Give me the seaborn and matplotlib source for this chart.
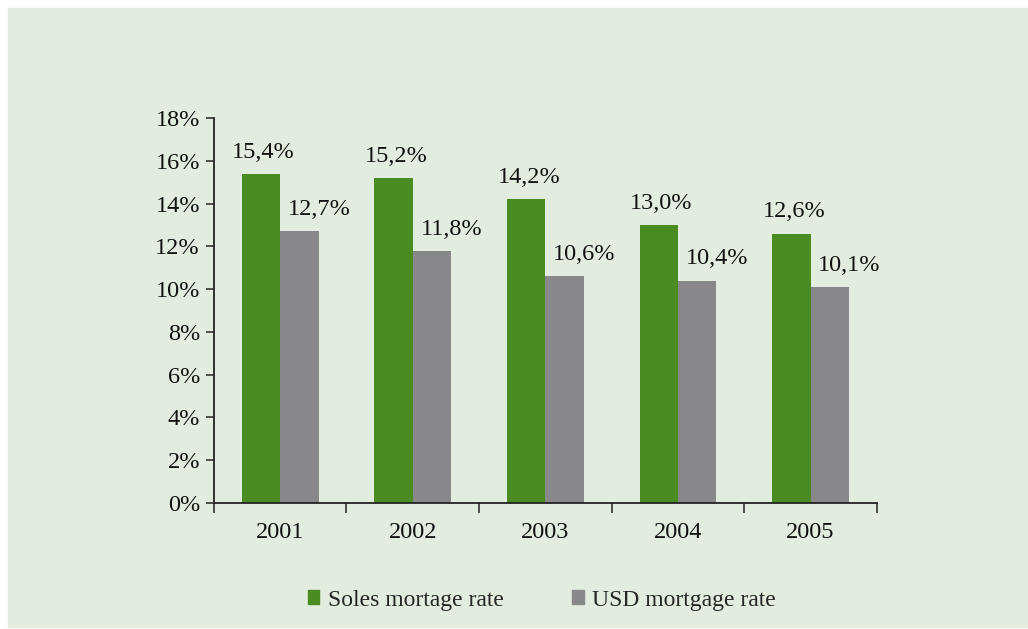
import matplotlib
matplotlib.use('Agg')
import matplotlib.pyplot as plt
import matplotlib.patches as mpatches
import seaborn as sns
import pandas as pd

# 数据
years = ['2001', '2002', '2003', '2004', '2005']
soles_rate = [15.4, 15.2, 14.2, 13.0, 12.6]
usd_rate = [12.7, 11.8, 10.6, 10.4, 10.1]
series_names = ['Soles mortage rate', 'USD mortgage rate']
colors = ['#4a8c22', '#88888a']
bg_color = '#e2ecdf'

df = pd.DataFrame({
    'year': years * 2,
    'rate': soles_rate + usd_rate,
    'serie': [series_names[0]] * len(years) + [series_names[1]] * len(years),
})

sns.set_style('ticks')
plt.rcParams['font.family'] = ['Liberation Serif', 'DejaVu Serif']
fs = 17.5

fig = plt.figure(figsize=(10.28, 6.29), dpi=100)
fig.patch.set_facecolor('white')
# 背景面板
fig.patches.append(mpatches.Rectangle((8 / 1028, 2 / 629), 1, 1 - 10 / 629,
                                      transform=fig.transFigure, color=bg_color, zorder=-10))

ax = fig.add_axes([0.208, 0.2003, 0.645, 0.612])
ax.set_facecolor('none')

sns.barplot(data=df, x='year', y='rate', hue='serie', palette=colors,
            width=0.58, saturation=1, linewidth=0, ax=ax, legend=False)

ax.set_ylim(0, 18)
ax.set_xlim(-0.5, 4.5)
ax.set_yticks(range(0, 19, 2))
ax.set_yticklabels([f'{v}%' for v in range(0, 19, 2)], fontsize=fs, color='#111111')
ax.tick_params(axis='y', length=6, width=1.2, color='#333333', pad=4)
ax.tick_params(axis='x', which='major', length=0, labelsize=fs, labelcolor='#111111', pad=14)
ax.set_xticks([i - 0.5 for i in range(len(years) + 1)], minor=True)
ax.tick_params(axis='x', which='minor', length=7, width=1.2, color='#333333')
ax.set_xlabel('')
ax.set_ylabel('')
for s in ['top', 'right']:
    ax.spines[s].set_visible(False)
for s in ['left', 'bottom']:
    ax.spines[s].set_color('#222222')
    ax.spines[s].set_linewidth(1.3)

# 数据标签
for k, cont in enumerate(ax.containers):
    for bar in cont:
        h = bar.get_height()
        dx = 2 if k == 0 else 14
        ax.annotate(f'{h:.1f}%'.replace('.', ','),
                    (bar.get_x() + bar.get_width() / 2, h),
                    xytext=(dx, 8), textcoords='offset points',
                    ha='center', va='bottom', fontsize=fs, color='#111111')

handles = [mpatches.Patch(color=c, label=n) for c, n in zip(colors, series_names)]
fig.legend(handles=handles, loc='center', bbox_to_anchor=(0.527, 0.046), ncol=2,
           frameon=False, fontsize=17, handlelength=0.5, handleheight=0.5,
           columnspacing=2.9, handletextpad=0.35)

fig.savefig('out.png', dpi=100)
